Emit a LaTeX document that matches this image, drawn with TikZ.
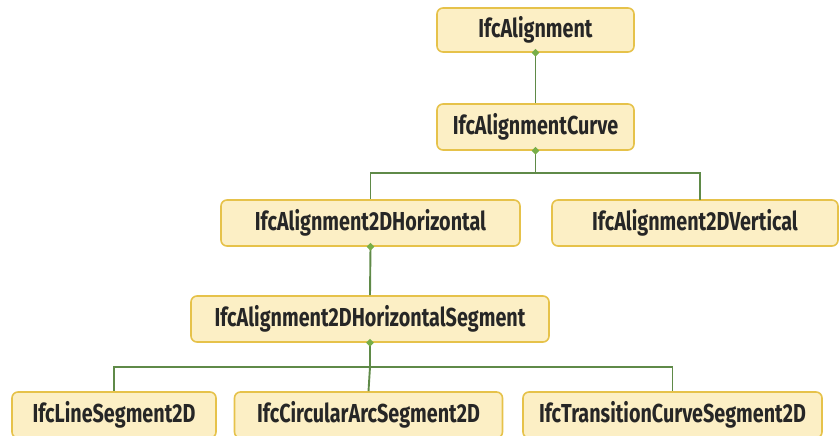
\documentclass[tikz,border=0pt]{standalone}
\usepackage{fontspec}
\setmainfont[FakeStretch=0.76]{Fira Sans}
\usetikzlibrary{shapes.geometric}
\definecolor{boxfill}{HTML}{FCEFC5}
\definecolor{boxline}{HTML}{E6C24A}
\definecolor{linkgreen}{HTML}{5F8A48}
\definecolor{dotgreen}{HTML}{78AE48}
\definecolor{textdark}{HTML}{262626}
\begin{document}
\begin{tikzpicture}[x=1pt,y=-1pt,
  cls/.style={draw=boxline, line width=1.6pt, fill=boxfill, rounded corners=6pt,
    minimum height=46pt, inner sep=0pt, text=textdark,
    font=\fontsize{26}{26}\selectfont\bfseries},
  link/.style={draw=linkgreen, line width=1.9pt},
  knot/.style={diamond, fill=dotgreen, minimum size=8pt, inner sep=0pt}]
\useasboundingbox (0,0) rectangle (840,436);
\clip (0,0) rectangle (840,436);

% class boxes
\node[cls, minimum width=197pt, minimum height=44pt] (al)   at (535.5,30)  {IfcAlignment};
\node[cls, minimum width=197pt] (cur)  at (535.5,127) {IfcAlignmentCurve};
\node[cls, minimum width=299pt] (hor)  at (370.5,223) {IfcAlignment2DHorizontal};
\node[cls, minimum width=286pt] (ver)  at (695,223)   {IfcAlignment2DVertical};
\node[cls, minimum width=358pt] (seg)  at (370,319)   {IfcAlignment2DHorizontalSegment};
\node[cls, minimum width=204pt] (lin)  at (114,415)   {IfcLineSegment2D};
\node[cls, minimum width=268pt] (arc)  at (368.5,415) {IfcCircularArcSegment2D};
\node[cls, minimum width=299pt] (tra)  at (672.5,415) {IfcTransitionCurveSegment2D};

% junction points of the tree
\coordinate (j1) at (535.5,173);
\coordinate (j2) at (370,367);
\coordinate (vtop) at (700,200);

% connectors
\draw[link] (al.south) -- (cur.north);
\draw[link] (cur.south) -- (j1);
\draw[link] (j1) -| (hor.north);
\draw[link] (j1) -| (vtop);
\draw[link] (hor.south) -- (seg.north);
\draw[link] (seg.south) -- (j2);
\draw[link] (j2) -| (lin.north);
\draw[link] (j2) -- (arc.north);
\draw[link] (j2) -| (tra.north);

% aggregation markers
\node[knot] at (al.south) {};
\node[knot] at (cur.south) {};
\node[knot] at (hor.south) {};
\node[knot] at (seg.south) {};
\end{tikzpicture}
\end{document}
